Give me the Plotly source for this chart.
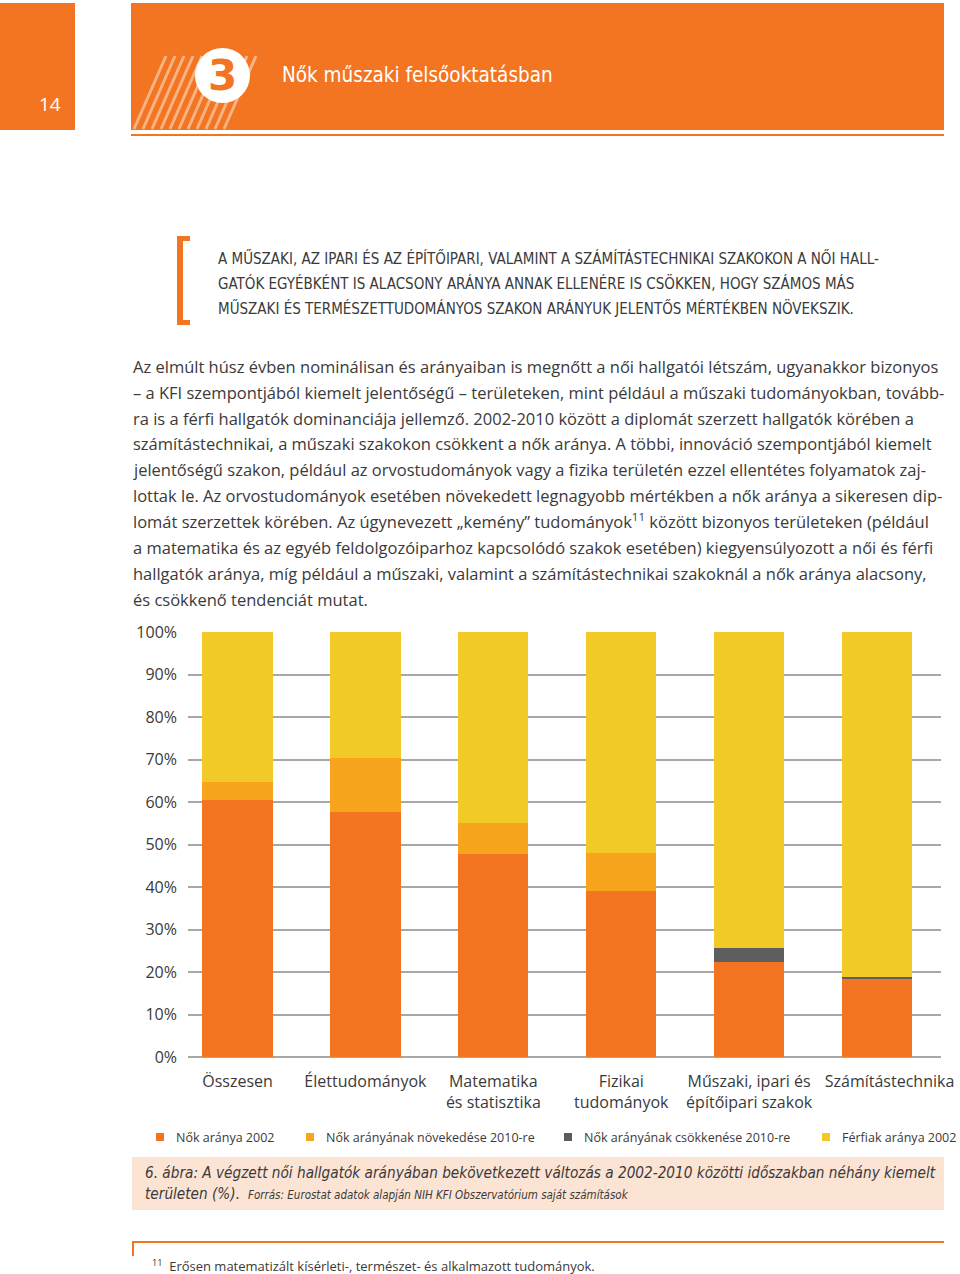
import plotly.graph_objects as go

W, H = 960, 1274

def px(x):
    return x / W

def py(y):
    return 1 - y / H

# ---------------- data ----------------
categories = ["Összesen", "Élettudományok", "Matematika és statisztika",
              "Fizikai tudományok", "Műszaki, ipari és építőipari szakok",
              "Számítástechnika"]
category_labels = ["Összesen", "Élettudományok", "Matematika<br>és statisztika",
                   "Fizikai<br>tudományok", "Műszaki, ipari és<br>építőipari szakok",
                   "&nbsp;&nbsp;&nbsp;&nbsp;&nbsp;&nbsp;Számítástechnika"]
nok_2002 = [60.4, 57.7, 47.7, 39.1, 22.4, 18.3]
nok_novekedes = [4.3, 12.7, 7.3, 8.8, 0.0, 0.0]
nok_csokkenes = [0.0, 0.0, 0.0, 0.0, 3.2, 0.5]
ferfiak_2002 = [35.3, 29.6, 45.0, 52.1, 74.4, 81.2]
series_names = ["Nők aránya 2002", "Nők arányának növekedése 2010-re",
                "Nők arányának csökkenése 2010-re", "Férfiak aránya 2002"]
series_colors = ["#F37521", "#F7A51C", "#5E5E5E", "#F2CA27"]
y_ticks = [0, 10, 20, 30, 40, 50, 60, 70, 80, 90, 100]
y_tick_labels = ["0%", "10%", "20%", "30%", "40%", "50%", "60%", "70%", "80%", "90%", "100%"]

paragraph = [
    "Az elmúlt húsz évben nominálisan és arányaiban is megnőtt a női hallgatói létszám, ugyanakkor bizonyos",
    "– a KFI szempontjából kiemelt jelentőségű – területeken, mint például a műszaki tudományokban, tovább-",
    "ra is a férfi hallgatók dominanciája jellemző. 2002-2010 között a diplomát szerzett hallgatók körében a",
    "számítástechnikai, a műszaki szakokon csökkent a nők aránya. A többi, innováció szempontjából kiemelt",
    "jelentőségű szakon, például az orvostudományok vagy a fizika területén ezzel ellentétes folyamatok zaj-",
    "lottak le. Az orvostudományok esetében növekedett legnagyobb mértékben a nők aránya a sikeresen dip-",
    "lomát szerzettek körében. Az úgynevezett „kemény” tudományok<sup>11</sup> között bizonyos területeken (például",
    "a matematika és az egyéb feldolgozóiparhoz kapcsolódó szakok esetében) kiegyensúlyozott a női és férfi",
    "hallgatók aránya, míg például a műszaki, valamint a számítástechnikai szakoknál a nők aránya alacsony,",
    "és csökkenő tendenciát mutat.",
]
quote = [
    "A MŰSZAKI, AZ IPARI ÉS AZ ÉPÍTŐIPARI, VALAMINT A SZÁMÍTÁSTECHNIKAI SZAKOKON A NŐI HALL-",
    "GATÓK EGYÉBKÉNT IS ALACSONY ARÁNYA ANNAK ELLENÉRE IS CSÖKKEN, HOGY SZÁMOS MÁS",
    "MŰSZAKI ÉS TERMÉSZETTUDOMÁNYOS SZAKON ARÁNYUK JELENTŐS MÉRTÉKBEN NÖVEKSZIK.",
]

ORANGE = "#F37521"
BODY_FONT = "Open Sans, Noto Sans, sans-serif"
COND_FONT = "Liberation Sans Narrow, DejaVu Sans Condensed, Roboto, sans-serif"
TEXT_COLOR = "#3a3a3a"

fig = go.Figure()
for name, vals, col in zip(series_names, [nok_2002, nok_novekedes, nok_csokkenes, ferfiak_2002], series_colors):
    fig.add_trace(go.Bar(x=categories, y=vals, name=name, marker=dict(color=col, line=dict(width=0)),
                         showlegend=False))

shapes = []
annotations = []

# header boxes
shapes.append(dict(type="rect", xref="paper", yref="paper", x0=px(0), x1=px(75), y0=py(130), y1=py(3),
                   fillcolor=ORANGE, line=dict(width=0), layer="below"))
shapes.append(dict(type="rect", xref="paper", yref="paper", x0=px(131), x1=px(944), y0=py(130), y1=py(3),
                   fillcolor=ORANGE, line=dict(width=0), layer="below"))
shapes.append(dict(type="line", xref="paper", yref="paper", x0=px(131), x1=px(944), y0=py(135), y1=py(135),
                   line=dict(color=ORANGE, width=2)))
# hatched stripes
for k in range(11):
    xb = 134 + 9 * k
    shapes.append(dict(type="line", xref="paper", yref="paper", x0=px(xb), y0=py(129), x1=px(xb + 32), y1=py(56),
                       line=dict(color="rgba(255,255,255,0.45)", width=3)))
# circle
shapes.append(dict(type="circle", xref="paper", yref="paper", x0=px(195), x1=px(250), y0=py(103), y1=py(48),
                   fillcolor="white", line=dict(width=0)))
annotations.append(dict(text="<b>3</b>", x=px(222), y=py(76), xref="paper", yref="paper", showarrow=False,
                        xanchor="center", yanchor="middle",
                        font=dict(family="DejaVu Sans, sans-serif", size=42, color=ORANGE)))
annotations.append(dict(text="14", x=px(50), y=py(104), xref="paper", yref="paper", showarrow=False,
                        xanchor="center", yanchor="middle",
                        font=dict(family=BODY_FONT, size=19, color="white")))
annotations.append(dict(text="Nők műszaki felsőoktatásban", x=px(280), y=py(75), xref="paper", yref="paper",
                        showarrow=False, xanchor="left", yanchor="middle",
                        font=dict(family=COND_FONT, size=20.5, color="white")))

# quote bracket
for (x0, x1, y0, y1) in [(177, 183, 236, 325), (177, 190, 236, 241), (177, 190, 320, 325)]:
    shapes.append(dict(type="rect", xref="paper", yref="paper", x0=px(x0), x1=px(x1), y0=py(y1), y1=py(y0),
                       fillcolor=ORANGE, line=dict(width=0)))
for i, line in enumerate(quote):
    annotations.append(dict(text=line, x=px(216), y=py(258 + 25 * i), xref="paper", yref="paper",
                            showarrow=False, xanchor="left", yanchor="middle",
                            font=dict(family=COND_FONT, size=15, color=TEXT_COLOR)))

# paragraph
para_y = [366, 392, 418, 443, 469, 495, 521, 547, 573, 599]
for line, yy in zip(paragraph, para_y):
    annotations.append(dict(text=line, x=px(131), y=py(yy), xref="paper", yref="paper",
                            showarrow=False, xanchor="left", yanchor="middle",
                            font=dict(family=BODY_FONT, size=16.5, color=TEXT_COLOR)))

# legend (manual)
legend_x = [160, 310, 568, 826]
for name, col, lx in zip(series_names, series_colors, legend_x):
    shapes.append(dict(type="rect", xref="paper", yref="paper", x0=px(lx - 4), x1=px(lx + 4),
                       y0=py(1141), y1=py(1133), fillcolor=col, line=dict(width=0)))
    annotations.append(dict(text=name, x=px(lx + 14), y=py(1137), xref="paper", yref="paper",
                            showarrow=False, xanchor="left", yanchor="middle",
                            font=dict(family=BODY_FONT, size=12.5, color=TEXT_COLOR)))

# caption box
shapes.append(dict(type="rect", xref="paper", yref="paper", x0=px(132), x1=px(944), y0=py(1210), y1=py(1157),
                   fillcolor="#FCE4D4", line=dict(width=0), layer="below"))
annotations.append(dict(text="<i>6. ábra: A végzett női hallgatók arányában bekövetkezett változás a 2002-2010 közötti időszakban néhány kiemelt</i>",
                        x=px(143), y=py(1173), xref="paper", yref="paper", showarrow=False,
                        xanchor="left", yanchor="middle", font=dict(family=COND_FONT, size=15.2, color=TEXT_COLOR)))
annotations.append(dict(text="<i>területen (%).</i>", x=px(143), y=py(1194), xref="paper", yref="paper",
                        showarrow=False, xanchor="left", yanchor="middle",
                        font=dict(family=COND_FONT, size=15.2, color=TEXT_COLOR)))
annotations.append(dict(text="<i>Forrás: Eurostat adatok alapján NIH KFI Obszervatórium saját számítások</i>",
                        x=px(246), y=py(1195), xref="paper", yref="paper", showarrow=False,
                        xanchor="left", yanchor="middle", font=dict(family=COND_FONT, size=11.5, color=TEXT_COLOR)))

# footnote
shapes.append(dict(type="line", xref="paper", yref="paper", x0=px(132), x1=px(944), y0=py(1242), y1=py(1242),
                   line=dict(color=ORANGE, width=2)))
shapes.append(dict(type="line", xref="paper", yref="paper", x0=px(133), x1=px(133), y0=py(1242), y1=py(1256),
                   line=dict(color=ORANGE, width=2)))
annotations.append(dict(text="<sup>11</sup>  Erősen matematizált kísérleti-, természet- és alkalmazott tudományok.",
                        x=px(150), y=py(1265), xref="paper", yref="paper", showarrow=False,
                        xanchor="left", yanchor="middle", font=dict(family=BODY_FONT, size=13, color=TEXT_COLOR)))

fig.update_layout(
    width=W, height=H, autosize=False,
    margin=dict(l=0, r=0, t=0, b=0, pad=0, autoexpand=False),
    paper_bgcolor="white", plot_bgcolor="white",
    barmode="stack", bargap=0.45,
    shapes=shapes, annotations=annotations,
    font=dict(family=BODY_FONT, color=TEXT_COLOR),
)
fig.update_xaxes(domain=[px(188), px(941)], range=[-0.387, 5.5], showgrid=False, showline=False,
                 ticks="", tickangle=0, automargin=False, tickmode="array",
                 tickvals=categories, ticktext=category_labels,
                 tickfont=dict(size=16, color=TEXT_COLOR, family=BODY_FONT), ticklabelstandoff=13)
fig.update_yaxes(domain=[py(1057), py(632)], range=[0, 100], tickmode="array", tickvals=y_ticks,
                 ticktext=y_tick_labels, automargin=False,
                 showgrid=True, gridcolor="#A8A8A8", gridwidth=2, zeroline=True, zerolinecolor="#A8A8A8",
                 zerolinewidth=2, showline=False, ticks="", ticklabelstandoff=10,
                 tickfont=dict(size=16, color=TEXT_COLOR, family=BODY_FONT))

fig.write_html("out.html", config={"displayModeBar": False},
               post_script="document.body.style.margin='0';")
